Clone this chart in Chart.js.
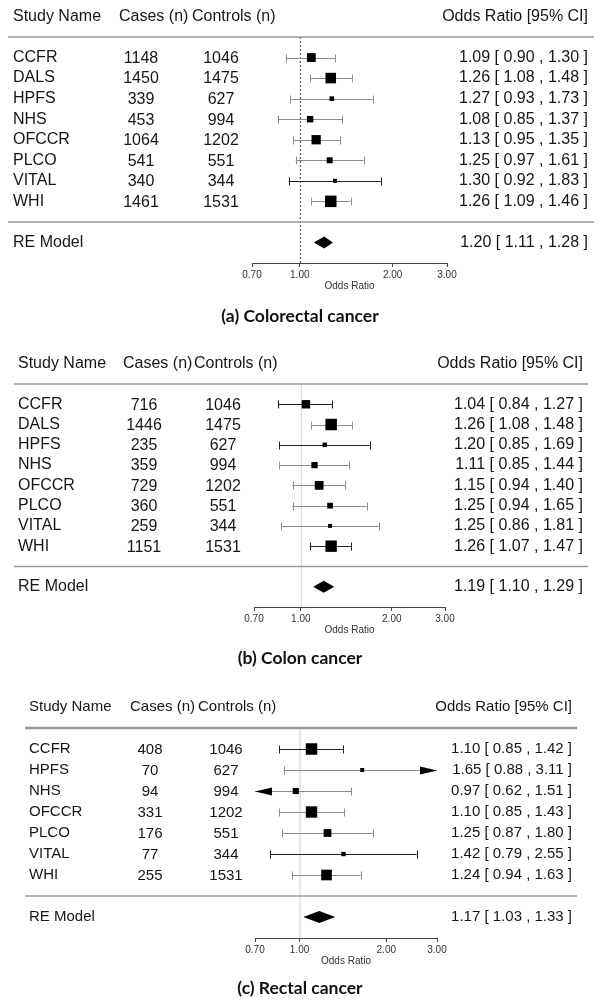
<!DOCTYPE html>
<html>
<head>
<meta charset="utf-8">
<script src="https://cdn.jsdelivr.net/npm/chart.js@4.4.1/dist/chart.umd.min.js"></script>
<style>
  body { margin: 0; background: #fff; }
  canvas { display: block; }
</style>
</head>
<body>
<canvas id="chartA" width="601" height="330"></canvas>
<canvas id="chartB" width="601" height="340"></canvas>
<canvas id="chartC" width="601" height="336"></canvas>
<script>
// (a) colorectal
const studiesA = ['CCFR', 'DALS', 'HPFS', 'NHS', 'OFCCR', 'PLCO', 'VITAL', 'WHI'];
const casesA = [1148, 1450, 339, 453, 1064, 541, 340, 1461];
const controlsA = [1046, 1475, 627, 994, 1202, 551, 344, 1531];
const orA = [1.09, 1.26, 1.27, 1.08, 1.13, 1.25, 1.30, 1.26];
const loA = [0.90, 1.08, 0.93, 0.85, 0.95, 0.97, 0.92, 1.09];
const hiA = [1.30, 1.48, 1.73, 1.37, 1.35, 1.61, 1.83, 1.46];
const reA = [1.20, 1.11, 1.28];

// (b) colon
const studiesB = ['CCFR', 'DALS', 'HPFS', 'NHS', 'OFCCR', 'PLCO', 'VITAL', 'WHI'];
const casesB = [716, 1446, 235, 359, 729, 360, 259, 1151];
const controlsB = [1046, 1475, 627, 994, 1202, 551, 344, 1531];
const orB = [1.04, 1.26, 1.20, 1.11, 1.15, 1.25, 1.25, 1.26];
const loB = [0.84, 1.08, 0.85, 0.85, 0.94, 0.94, 0.86, 1.07];
const hiB = [1.27, 1.48, 1.69, 1.44, 1.40, 1.65, 1.81, 1.47];
const reB = [1.19, 1.10, 1.29];

// (c) rectal
const studiesC = ['CCFR', 'HPFS', 'NHS', 'OFCCR', 'PLCO', 'VITAL', 'WHI'];
const casesC = [408, 70, 94, 331, 176, 77, 255];
const controlsC = [1046, 627, 994, 1202, 551, 344, 1531];
const orC = [1.10, 1.65, 0.97, 1.10, 1.25, 1.42, 1.24];
const loC = [0.85, 0.88, 0.62, 0.85, 0.87, 0.79, 0.94];
const hiC = [1.42, 3.11, 1.51, 1.43, 1.80, 2.55, 1.63];
const reC = [1.17, 1.03, 1.33];

const oddsTicks = [0.70, 1.00, 2.00, 3.00];

const FONT = '"Liberation Sans", Arial, sans-serif';

function ciText(est, lo, hi) {
  return est.toFixed(2) + ' [ ' + lo.toFixed(2) + ' , ' + hi.toFixed(2) + ' ]';
}

function forestPlot(canvasId, d, lay) {
  const k = d.studies.length;
  // box size from precision (1 / CI width on log scale)
  const prec = d.lo.map((lo, i) => 1 / (Math.log(d.hi[i]) - Math.log(lo)));
  const pMin = Math.min(...prec), pMax = Math.max(...prec);
  const sizes = prec.map(p => 4 + (p - pMin) / (pMax - pMin) * 7.5);

  const forest = {
    id: 'forest',
    beforeDatasetsDraw(chart) {
      const { ctx, chartArea, scales: { x, y } } = chart;
      ctx.save();
      // reference line at OR = 1
      const x1 = x.getPixelForValue(1);
      ctx.beginPath();
      ctx.lineWidth = 1;
      if (lay.dotted) {
        ctx.setLineDash([2, 2]);
        ctx.strokeStyle = '#333';
      } else {
        ctx.strokeStyle = '#d0d0d0';
      }
      ctx.moveTo(x1 + 0.5, chartArea.top);
      ctx.lineTo(x1 + 0.5, chartArea.bottom);
      ctx.stroke();
      ctx.setLineDash([]);

      // confidence intervals
      d.lo.forEach((lo, i) => {
        const hi = d.hi[i];
        const yy = Math.round(y.getPixelForValue(k - i)) + 0.5;
        const xa = x.getPixelForValue(Math.max(lo, x.min));
        const xb = x.getPixelForValue(Math.min(hi, x.max));
        ctx.strokeStyle = lay.darkRows.includes(d.studies[i]) ? '#222' : '#8c8c8c';
        ctx.fillStyle = '#000';
        ctx.lineWidth = 1;
        ctx.beginPath();
        ctx.moveTo(xa, yy);
        ctx.lineTo(xb, yy);
        ctx.stroke();
        [[lo, xa, -1], [hi, xb, 1]].forEach(([v, px, dir]) => {
          const out = dir < 0 ? v < x.min : v > x.max;
          if (out) {
            ctx.beginPath();
            ctx.moveTo(px, yy);
            ctx.lineTo(px - dir * 17, yy - 4);
            ctx.lineTo(px - dir * 17, yy + 4);
            ctx.closePath();
            ctx.fill();
          } else {
            ctx.beginPath();
            ctx.moveTo(Math.round(px) + 0.5, yy - 4);
            ctx.lineTo(Math.round(px) + 0.5, yy + 4);
            ctx.stroke();
          }
        });
      });
      ctx.restore();
    },
    afterDraw(chart) {
      const { ctx, scales: { x, y } } = chart;
      ctx.save();
      // horizontal rules
      ctx.strokeStyle = '#9a9a9a';
      [[k + 1, lay.topRule], [0, 1.5]].forEach(([row, w]) => {
        const yy = y.getPixelForValue(row);
        ctx.lineWidth = w;
        ctx.beginPath();
        ctx.moveTo(lay.ruleL, yy);
        ctx.lineTo(lay.ruleR, yy);
        ctx.stroke();
      });

      // summary diamond
      const yr = y.getPixelForValue(-1);
      ctx.fillStyle = '#000';
      ctx.beginPath();
      ctx.moveTo(x.getPixelForValue(d.re[1]), yr);
      ctx.lineTo(x.getPixelForValue(d.re[0]), yr - 6);
      ctx.lineTo(x.getPixelForValue(d.re[2]), yr);
      ctx.lineTo(x.getPixelForValue(d.re[0]), yr + 6);
      ctx.closePath();
      ctx.fill();

      // text columns
      ctx.fillStyle = '#161616';
      ctx.font = lay.font + 'px ' + FONT;
      ctx.textBaseline = 'middle';
      const yh = y.getPixelForValue(k + 2);
      ctx.textAlign = 'left';
      ctx.fillText('Study Name', lay.nameX, yh);
      ctx.fillText('Cases (n)', lay.casesHeadX, yh);
      ctx.fillText('Controls (n)', lay.controlsHeadX, yh);
      ctx.textAlign = 'right';
      ctx.fillText('Odds Ratio [95% CI]', lay.orX, yh);

      d.studies.forEach((s, i) => {
        const yy = y.getPixelForValue(k - i);
        ctx.textAlign = 'left';
        ctx.fillText(s, lay.nameX, yy);
        ctx.textAlign = 'center';
        ctx.fillText(String(d.cases[i]), lay.casesX, yy + 1);
        ctx.fillText(String(d.controls[i]), lay.controlsX, yy + 1);
        ctx.textAlign = 'right';
        ctx.fillText(ciText(d.or[i], d.lo[i], d.hi[i]), lay.orX, yy);
      });
      ctx.textAlign = 'left';
      ctx.fillText('RE Model', lay.nameX, yr);
      ctx.textAlign = 'right';
      ctx.fillText(ciText(d.re[0], d.re[1], d.re[2]), lay.orX, yr);

      // panel caption
      ctx.fillStyle = '#111';
      ctx.font = 'bold 17.5px Lato, "Open Sans", sans-serif';
      ctx.textAlign = 'center';
      ctx.fillText(lay.title, 300, lay.titleY);
      ctx.restore();
    }
  };

  return new Chart(document.getElementById(canvasId), {
    type: 'scatter',
    data: {
      datasets: [{
        data: d.or.map((v, i) => ({ x: v, y: k - i })),
        pointStyle: 'rect',
        pointRadius: sizes.map(s => s / Math.SQRT2),
        pointHoverRadius: sizes.map(s => s / Math.SQRT2),
        backgroundColor: '#000',
        borderWidth: 0,
        clip: false
      }]
    },
    options: {
      responsive: false,
      animation: false,
      devicePixelRatio: 1,
      layout: {
        padding: {
          top: lay.top,
          bottom: lay.height - lay.axis - 29,
          left: lay.left,
          right: 601 - lay.right
        }
      },
      plugins: { legend: { display: false }, tooltip: { enabled: false } },
      scales: {
        x: {
          type: 'logarithmic',
          min: 0.7,
          max: 3.0,
          afterBuildTicks: s => { s.ticks = oddsTicks.map(v => ({ value: v })); },
          afterFit: s => { s.height = 29; },
          ticks: {
            callback: v => Number(v).toFixed(2),
            font: { family: FONT, size: 10 },
            color: '#333',
            padding: 2,
            maxRotation: 0,
            autoSkip: false
          },
          grid: { drawOnChartArea: false, drawTicks: true, tickLength: 4, color: '#444' },
          border: { display: true, color: '#444', width: 1 },
          title: {
            display: true,
            text: 'Odds Ratio',
            font: { family: FONT, size: 10 },
            color: '#333',
            padding: 0
          }
        },
        y: { type: 'linear', min: -2, max: k + 1, display: false }
      }
    },
    plugins: [forest]
  });
}

forestPlot('chartA',
  { studies: studiesA, cases: casesA, controls: controlsA, or: orA, lo: loA, hi: hiA, re: reA },
  { height: 330, top: 37, axis: 263, left: 252, right: 447, font: 16, nameX: 13, casesX: 141,
    controlsX: 221, orX: 588, casesHeadX: 119, controlsHeadX: 192, ruleL: 8, ruleR: 594,
    topRule: 1.5, titleY: 316, dotted: true, darkRows: ['VITAL'], title: '(a) Colorectal cancer' });

forestPlot('chartB',
  { studies: studiesB, cases: casesB, controls: controlsB, or: orB, lo: loB, hi: hiB, re: reB },
  { height: 340, top: 54, axis: 277, left: 254, right: 445, font: 16, nameX: 18, casesX: 144,
    controlsX: 223, orX: 583, casesHeadX: 123, controlsHeadX: 194, ruleL: 14, ruleR: 588,
    topRule: 1.5, titleY: 328, dotted: false, darkRows: ['CCFR', 'HPFS', 'WHI'], title: '(b) Colon cancer' });

forestPlot('chartC',
  { studies: studiesC, cases: casesC, controls: controlsC, or: orC, lo: loC, hi: hiC, re: reC },
  { height: 336, top: 58, axis: 268, left: 255, right: 437, font: 15, nameX: 29, casesX: 150,
    controlsX: 226, orX: 572, casesHeadX: 130, controlsHeadX: 198, ruleL: 25, ruleR: 577,
    topRule: 2.5, titleY: 318, dotted: false, darkRows: ['VITAL', 'CCFR'], title: '(c) Rectal cancer' });
</script>
</body>
</html>
